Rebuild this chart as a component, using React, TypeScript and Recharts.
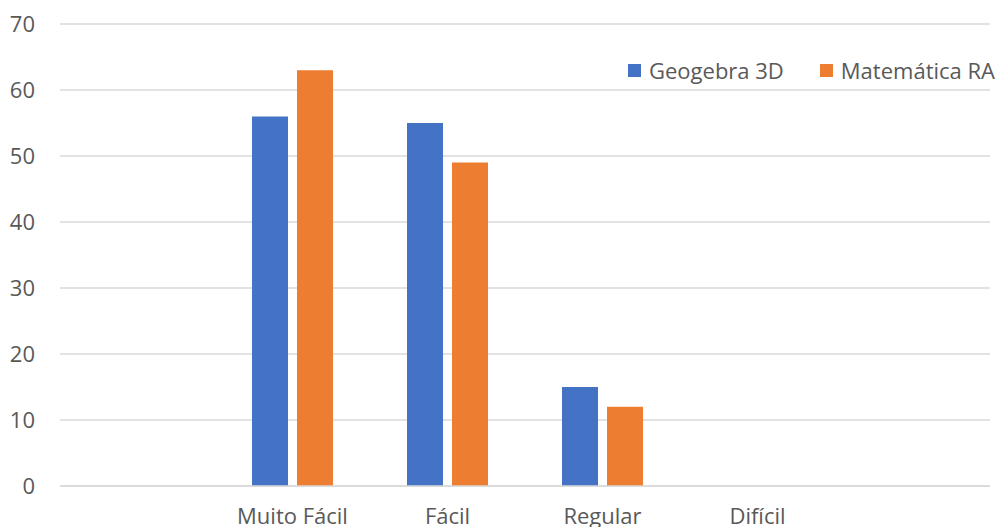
import { Bar, BarChart, CartesianGrid, XAxis, YAxis } from "recharts";

const categories = ["", "Muito Fácil", "Fácil", "Regular", "Difícil", ""];
const geogebra3d = [null, 56, 55, 15, 0, null];
const matematicaRA = [null, 63, 49, 12, 0, null];
const yTicks = [0, 10, 20, 30, 40, 50, 60, 70];

const series = [
  { key: "geogebra", name: "Geogebra 3D", color: "#4472C4" },
  { key: "matematica", name: "Matemática RA", color: "#ED7D31" },
];

const data = categories.map((name, i) => ({
  name,
  geogebra: geogebra3d[i],
  matematica: matematicaRA[i],
}));

const font = "'Open Sans', sans-serif";

function LegendBox() {
  return (
    <div
      style={{
        position: "absolute",
        top: 55,
        right: 3,
        display: "flex",
        fontFamily: font,
        fontSize: 22,
        lineHeight: "30px",
        color: "#595959",
      }}
    >
      {series.map((s, i) => (
        <div key={s.key} style={{ display: "flex", alignItems: "center", marginLeft: i === 0 ? 0 : 36 }}>
          <span style={{ width: 13, height: 13, background: s.color, marginRight: 8, display: "inline-block" }} />
          <span>{s.name}</span>
        </div>
      ))}
    </div>
  );
}

export default function App() {
  return (
    <div style={{ position: "absolute", left: 0, top: 0, width: 998, height: 527, background: "#fff" }}>
      <BarChart
        width={998}
        height={527}
        data={data}
        margin={{ top: 24, right: 8, bottom: 0, left: 0 }}
        barGap={9}
        barSize={36}
      >
        <CartesianGrid vertical={false} stroke="#d9d9d9" strokeWidth={1.5} />
        <XAxis
          dataKey="name"
          height={41}
          tickLine={false}
          axisLine={{ stroke: "#d9d9d9", strokeWidth: 1.5 }}
          tickSize={0}
          tickMargin={22}
          interval={0}
          tick={{ fill: "#595959", fontSize: 22, fontFamily: font }}
        />
        <YAxis
          width={60}
          domain={[0, 70]}
          ticks={yTicks}
          axisLine={false}
          tickLine={false}
          tickSize={0}
          tickMargin={25}
          tick={{ fill: "#595959", fontSize: 22, fontFamily: font }}
        />
        {series.map((s) => (
          <Bar key={s.key} dataKey={s.key} name={s.name} fill={s.color} isAnimationActive={false} />
        ))}
      </BarChart>
      <LegendBox />
    </div>
  );
}
